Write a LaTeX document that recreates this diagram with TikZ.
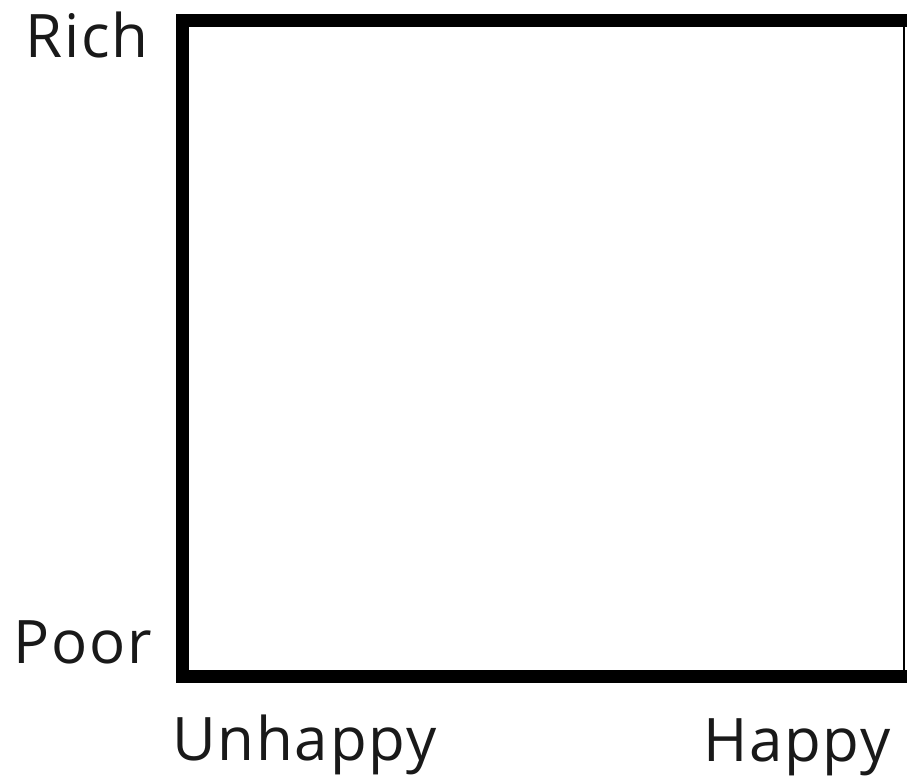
\documentclass[tikz,border=0pt]{standalone}
\usepackage{fontspec}
\setmainfont{Open Sans}[LetterSpace=3]
\begin{document}
\begin{tikzpicture}[x=1pt,y=-1pt,
  lbl/.style={font=\fontsize{60}{63}\selectfont, text=black!90, inner sep=0pt, anchor=base west},
  frame/.style={line width=13pt, line join=miter}]
\useasboundingbox (0,0) rectangle (907,777);
\fill[white] (0,0) rectangle (907,777);
\coordinate (tr) at (910,20);
\coordinate (tl) at (182,20);
\coordinate (bl) at (182,676);
\coordinate (br) at (910,676);
\coordinate (rt) at (904,20);
\coordinate (rb) at (904,676);
\draw[frame] (tr) -- (tl) -- (bl) -- (br);
\draw[line width=2pt] (rt) -- (rb);
\node[lbl] (rich) at (25,57) {Rich};
\node[lbl] (poor) at (13,663) {Poor};
\node[lbl] (unhappy) at (172,760) {Unhappy};
\node[lbl] (happy) at (703,761) {Happy};
\end{tikzpicture}
\end{document}
